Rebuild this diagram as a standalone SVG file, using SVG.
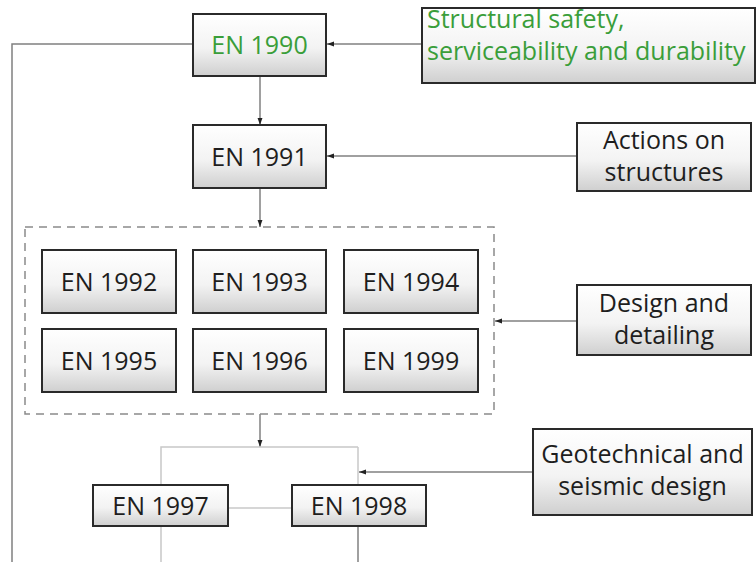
<svg xmlns="http://www.w3.org/2000/svg" width="756" height="562" viewBox="0 0 756 562">
<defs>
<linearGradient id="g" x1="0" y1="0" x2="0" y2="1">
<stop offset="0" stop-color="#ffffff"/>
<stop offset="0.55" stop-color="#f3f3f3"/>
<stop offset="1" stop-color="#cfcfcf"/>
</linearGradient>
<marker id="ah" viewBox="0 0 10 10" refX="10" refY="5" markerWidth="7" markerHeight="7" markerUnits="userSpaceOnUse" orient="auto">
<path d="M0,1.5 L10,5 L0,8.5 z" fill="#222"/>
</marker>
<style>
.box{fill:url(#g);stroke:#2a2a2a;stroke-width:2}
.t{font-family:"Open Sans","Liberation Sans",sans-serif;font-size:25px;fill:#1e1e1e;text-anchor:middle}
.s{text-anchor:start}
.green{fill:#3a9e3a}
.c{fill:none;stroke:#808080;stroke-width:1.5}
.cl{fill:none;stroke:#c8c8c8;stroke-width:1.5}
.dash{fill:none;stroke:#8a8a8a;stroke-width:1.5;stroke-dasharray:8 6}
</style>
</defs>
<rect width="756" height="562" fill="#ffffff"/>

<g id="connectors">
<polyline class="c" points="193,44 12,44 12,562"/>
<line class="c" x1="422" y1="44" x2="327" y2="44" marker-end="url(#ah)"/>
<line class="c" x1="260" y1="76" x2="260" y2="125" marker-end="url(#ah)"/>
<line class="c" x1="577" y1="156" x2="327" y2="156" marker-end="url(#ah)"/>
<line class="c" x1="260" y1="188" x2="260" y2="227" marker-end="url(#ah)"/>
<line class="c" x1="577" y1="321" x2="495" y2="321" marker-end="url(#ah)"/>
<line class="c" x1="260" y1="414" x2="260" y2="447" marker-end="url(#ah)"/>
<polyline class="cl" points="161,562 161,447 358,447"/>
<line class="cl" x1="358" y1="447" x2="358" y2="485"/>
<line class="c" x1="358" y1="526" x2="358" y2="562"/>
<line class="cl" x1="228" y1="508" x2="292" y2="508"/>
<line class="c" x1="533" y1="472" x2="359" y2="472" marker-end="url(#ah)"/>
</g>

<g id="group-design">
<rect class="dash" x="25" y="227" width="469" height="187"/>
</g>

<g id="en1990">
<rect class="box" x="193" y="14" width="133" height="62"/>
<text class="t green" x="259.5" y="54">EN 1990</text>
</g>
<g id="en1991">
<rect class="box" x="193" y="125" width="133" height="63"/>
<text class="t" x="259.5" y="166">EN 1991</text>
</g>
<g id="en1992">
<rect class="box" x="42" y="250" width="134" height="63"/>
<text class="t" x="109" y="291">EN 1992</text>
</g>
<g id="en1993">
<rect class="box" x="193" y="250" width="133" height="63"/>
<text class="t" x="259.5" y="291">EN 1993</text>
</g>
<g id="en1994">
<rect class="box" x="344" y="250" width="134" height="63"/>
<text class="t" x="411" y="291">EN 1994</text>
</g>
<g id="en1995">
<rect class="box" x="42" y="329" width="134" height="63"/>
<text class="t" x="109" y="370">EN 1995</text>
</g>
<g id="en1996">
<rect class="box" x="193" y="329" width="133" height="63"/>
<text class="t" x="259.5" y="370">EN 1996</text>
</g>
<g id="en1999">
<rect class="box" x="344" y="329" width="134" height="63"/>
<text class="t" x="411" y="370">EN 1999</text>
</g>
<g id="en1997">
<rect class="box" x="93" y="485" width="135" height="41"/>
<text class="t" x="160.5" y="515">EN 1997</text>
</g>
<g id="en1998">
<rect class="box" x="292" y="485" width="134" height="41"/>
<text class="t" x="359" y="515">EN 1998</text>
</g>

<g id="structural-safety">
<rect class="box" x="422" y="8" width="333" height="75"/>
<text class="t s green" x="427" y="28">Structural safety,</text>
<text class="t s green" x="427" y="60">serviceability and durability</text>
</g>
<g id="actions">
<rect class="box" x="577" y="123" width="174" height="68"/>
<text class="t" x="664" y="149">Actions on</text>
<text class="t" x="664" y="181">structures</text>
</g>
<g id="design-detailing">
<rect class="box" x="577" y="285" width="174" height="70"/>
<text class="t" x="664" y="312">Design and</text>
<text class="t" x="664" y="344">detailing</text>
</g>
<g id="geotechnical">
<rect class="box" x="533" y="429" width="219" height="86"/>
<text class="t" x="642.5" y="463">Geotechnical and</text>
<text class="t" x="642.5" y="495">seismic design</text>
</g>
</svg>
